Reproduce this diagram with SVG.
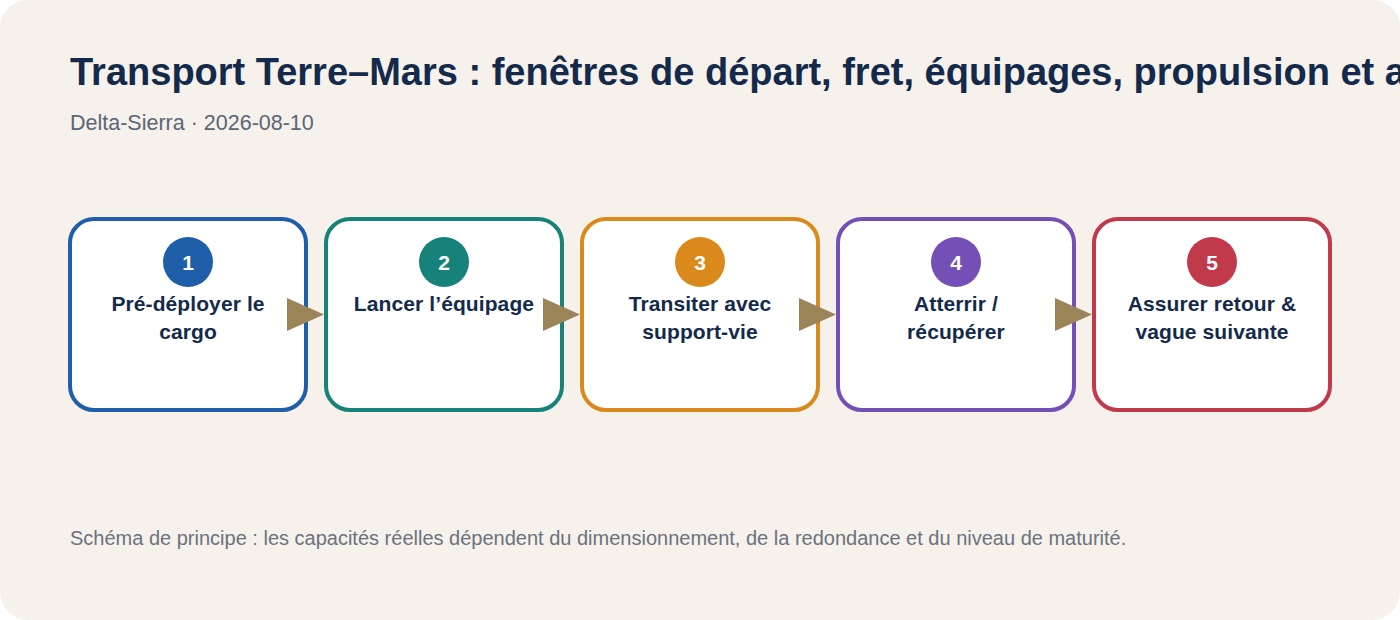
<svg xmlns="http://www.w3.org/2000/svg" width="1400" height="620" viewBox="0 0 1400 620">
<defs>
<style>
.title{font-family:"Liberation Sans",Arial,sans-serif;font-weight:700;font-size:38px;fill:#132a4c}
.sub{font-family:"Liberation Sans",Arial,sans-serif;font-size:21.5px;fill:#5b6577}
.foot{font-family:"Liberation Sans",Arial,sans-serif;font-size:20px;fill:#6b7280}
.box{fill:#ffffff;stroke-width:4}
.num{font-family:"Liberation Sans",Arial,sans-serif;font-weight:700;font-size:21px;fill:#ffffff;text-anchor:middle}
.lbl{font-family:"Liberation Sans",Arial,sans-serif;font-weight:700;font-size:21px;letter-spacing:0.1px;fill:#132a4c;text-anchor:middle}
.arrow{fill:#9a8458}
</style>
</defs>
<rect x="0" y="0" width="1400" height="620" rx="28" fill="#f6f1ea"/>
<text class="title" x="70" y="85">Transport Terre–Mars : fenêtres de départ, fret, équipages, propulsion et atterrissage</text>
<text class="sub" x="70" y="130">Delta-Sierra · 2026-08-10</text>
<g id="node1">
<rect class="box" x="70" y="219" width="236" height="191" rx="24" stroke="#1f5ea8"/>
<circle cx="188" cy="262" r="25" fill="#1f5ea8"/>
<text class="num" x="188" y="270">1</text>
<text class="lbl" x="188" y="311">Pré-déployer le</text>
<text class="lbl" x="188" y="339">cargo</text>
</g>
<g id="node2">
<rect class="box" x="326" y="219" width="236" height="191" rx="24" stroke="#17827a"/>
<circle cx="444" cy="262" r="25" fill="#17827a"/>
<text class="num" x="444" y="270">2</text>
<text class="lbl" x="444" y="311">Lancer l’équipage</text>
</g>
<g id="node3">
<rect class="box" x="582" y="219" width="236" height="191" rx="24" stroke="#d98a1a"/>
<circle cx="700" cy="262" r="25" fill="#d98a1a"/>
<text class="num" x="700" y="270">3</text>
<text class="lbl" x="700" y="311">Transiter avec</text>
<text class="lbl" x="700" y="339">support-vie</text>
</g>
<g id="node4">
<rect class="box" x="838" y="219" width="236" height="191" rx="24" stroke="#7450b6"/>
<circle cx="956" cy="262" r="25" fill="#7450b6"/>
<text class="num" x="956" y="270">4</text>
<text class="lbl" x="956" y="311">Atterrir /</text>
<text class="lbl" x="956" y="339">récupérer</text>
</g>
<g id="node5">
<rect class="box" x="1094" y="219" width="236" height="191" rx="24" stroke="#c13a4c"/>
<circle cx="1212" cy="262" r="25" fill="#c13a4c"/>
<text class="num" x="1212" y="270">5</text>
<text class="lbl" x="1212" y="311">Assurer retour &amp;</text>
<text class="lbl" x="1212" y="339">vague suivante</text>
</g>
<g id="connectors">
<path class="arrow" d="M287,298 L324,314.5 L287,331 Z"/>
<path class="arrow" d="M543,298 L580,314.5 L543,331 Z"/>
<path class="arrow" d="M799,298 L836,314.5 L799,331 Z"/>
<path class="arrow" d="M1055,298 L1092,314.5 L1055,331 Z"/>
</g>
<text class="foot" x="70" y="545">Schéma de principe : les capacités réelles dépendent du dimensionnement, de la redondance et du niveau de maturité.</text>
</svg>
